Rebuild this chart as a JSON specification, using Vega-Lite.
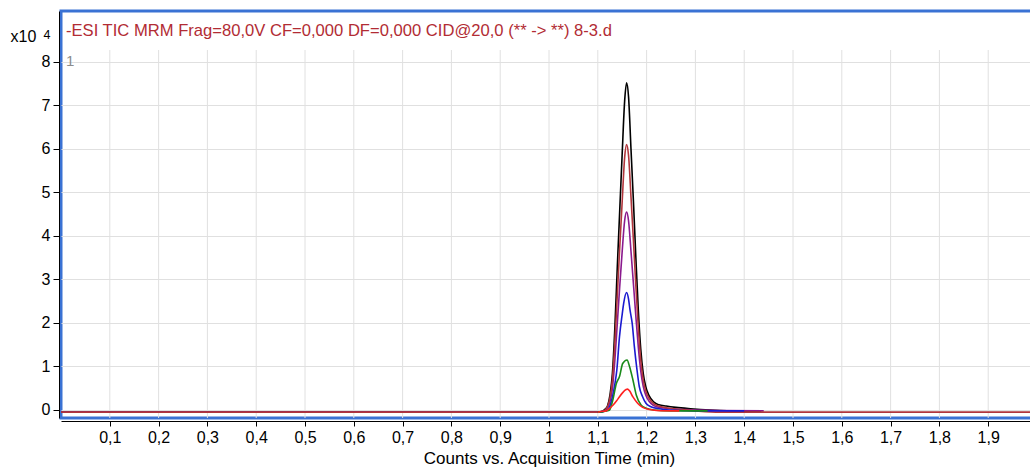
{
  "$schema": "https://vega.github.io/schema/vega-lite/v6.json",
  "autosize": "none",
  "padding": {"left": 61, "top": 11, "right": 0, "bottom": 53},
  "width": 976,
  "height": 407,
  "config": {
    "font": "Liberation Sans",
    "view": {"stroke": "#3a72d4", "strokeWidth": 3},
    "background": "white"
  },
  "title": {
    "text": "-ESI TIC MRM Frag=80,0V CF=0,000 DF=0,000 CID@20,0 (** -> **) 8-3.d",
    "subtitle": "1",
    "anchor": "start",
    "frame": "group",
    "offset": -58,
    "dx": 5,
    "fontSize": 16.6,
    "fontWeight": "normal",
    "color": "#b22c34",
    "subtitleColor": "#8c8c8c",
    "subtitleFontSize": 15,
    "subtitlePadding": 14
  },
  "resolve": {"scale": {"y": "independent"}, "axis": {"y": "independent"}},
  "datasets": {
    "grid": [
      {"g": 0.1}, {"g": 0.2}, {"g": 0.3}, {"g": 0.4}, {"g": 0.5}, {"g": 0.6}, {"g": 0.7}, {"g": 0.8}, {"g": 0.9}, {"g": 1.0},
      {"g": 1.1}, {"g": 1.2}, {"g": 1.3}, {"g": 1.4}, {"g": 1.5}, {"g": 1.6}, {"g": 1.7}, {"g": 1.8}, {"g": 1.9}
    ],
    "tic": [
      {"s": "s1", "t": 0.0, "v": -500},
      {"s": "s1", "t": 1.1, "v": -500},
      {"s": "s1", "t": 1.11, "v": -300},
      {"s": "s1", "t": 1.115, "v": 200},
      {"s": "s1", "t": 1.12, "v": 1000},
      {"s": "s1", "t": 1.125, "v": 3500},
      {"s": "s1", "t": 1.13, "v": 8500},
      {"s": "s1", "t": 1.135, "v": 19000},
      {"s": "s1", "t": 1.14, "v": 33000},
      {"s": "s1", "t": 1.145, "v": 46000},
      {"s": "s1", "t": 1.15, "v": 59000},
      {"s": "s1", "t": 1.155, "v": 71000},
      {"s": "s1", "t": 1.159, "v": 75200},
      {"s": "s1", "t": 1.163, "v": 72000},
      {"s": "s1", "t": 1.168, "v": 60000},
      {"s": "s1", "t": 1.173, "v": 48000},
      {"s": "s1", "t": 1.178, "v": 35000},
      {"s": "s1", "t": 1.183, "v": 23000},
      {"s": "s1", "t": 1.188, "v": 14000},
      {"s": "s1", "t": 1.193, "v": 8500},
      {"s": "s1", "t": 1.198, "v": 5500},
      {"s": "s1", "t": 1.205, "v": 3300},
      {"s": "s1", "t": 1.215, "v": 1800},
      {"s": "s1", "t": 1.225, "v": 1200},
      {"s": "s1", "t": 1.24, "v": 900},
      {"s": "s1", "t": 1.26, "v": 600},
      {"s": "s1", "t": 1.29, "v": 300},
      {"s": "s1", "t": 1.33, "v": 0},
      {"s": "s1", "t": 1.38, "v": -200},
      {"s": "s1", "t": 1.435, "v": -300},

      {"s": "s2", "t": 0.0, "v": -500},
      {"s": "s2", "t": 1.1, "v": -500},
      {"s": "s2", "t": 1.115, "v": -200},
      {"s": "s2", "t": 1.12, "v": 600},
      {"s": "s2", "t": 1.125, "v": 2000},
      {"s": "s2", "t": 1.13, "v": 5000},
      {"s": "s2", "t": 1.135, "v": 11500},
      {"s": "s2", "t": 1.14, "v": 20000},
      {"s": "s2", "t": 1.145, "v": 28500},
      {"s": "s2", "t": 1.15, "v": 36500},
      {"s": "s2", "t": 1.155, "v": 43500},
      {"s": "s2", "t": 1.159, "v": 45500},
      {"s": "s2", "t": 1.163, "v": 43500},
      {"s": "s2", "t": 1.168, "v": 36500},
      {"s": "s2", "t": 1.173, "v": 29000},
      {"s": "s2", "t": 1.178, "v": 21500},
      {"s": "s2", "t": 1.183, "v": 14500},
      {"s": "s2", "t": 1.188, "v": 9000},
      {"s": "s2", "t": 1.193, "v": 5500},
      {"s": "s2", "t": 1.198, "v": 3500},
      {"s": "s2", "t": 1.205, "v": 2000},
      {"s": "s2", "t": 1.215, "v": 1000},
      {"s": "s2", "t": 1.225, "v": 600},
      {"s": "s2", "t": 1.24, "v": 400},
      {"s": "s2", "t": 1.28, "v": 100},
      {"s": "s2", "t": 1.35, "v": -100},
      {"s": "s2", "t": 1.44, "v": -200},

      {"s": "s3", "t": 0.0, "v": -500},
      {"s": "s3", "t": 1.1, "v": -500},
      {"s": "s3", "t": 1.11, "v": -400},
      {"s": "s3", "t": 1.115, "v": 0},
      {"s": "s3", "t": 1.12, "v": 800},
      {"s": "s3", "t": 1.125, "v": 2800},
      {"s": "s3", "t": 1.13, "v": 7000},
      {"s": "s3", "t": 1.135, "v": 15500},
      {"s": "s3", "t": 1.14, "v": 26500},
      {"s": "s3", "t": 1.145, "v": 37500},
      {"s": "s3", "t": 1.15, "v": 48000},
      {"s": "s3", "t": 1.155, "v": 58000},
      {"s": "s3", "t": 1.159, "v": 61000},
      {"s": "s3", "t": 1.163, "v": 58500},
      {"s": "s3", "t": 1.168, "v": 49000},
      {"s": "s3", "t": 1.173, "v": 39000},
      {"s": "s3", "t": 1.178, "v": 28500},
      {"s": "s3", "t": 1.183, "v": 19000},
      {"s": "s3", "t": 1.188, "v": 11500},
      {"s": "s3", "t": 1.193, "v": 7000},
      {"s": "s3", "t": 1.198, "v": 4500},
      {"s": "s3", "t": 1.205, "v": 2700},
      {"s": "s3", "t": 1.215, "v": 1400},
      {"s": "s3", "t": 1.225, "v": 900},
      {"s": "s3", "t": 1.24, "v": 500},
      {"s": "s3", "t": 1.26, "v": 200},
      {"s": "s3", "t": 1.3, "v": -200},
      {"s": "s3", "t": 1.35, "v": -500},
      {"s": "s3", "t": 2.0, "v": -500},

      {"s": "s4", "t": 1.1, "v": -500},
      {"s": "s4", "t": 1.115, "v": -200},
      {"s": "s4", "t": 1.12, "v": 0},
      {"s": "s4", "t": 1.125, "v": 1000},
      {"s": "s4", "t": 1.13, "v": 3000},
      {"s": "s4", "t": 1.135, "v": 6000},
      {"s": "s4", "t": 1.139, "v": 9200},
      {"s": "s4", "t": 1.1445, "v": 16900},
      {"s": "s4", "t": 1.15, "v": 22000},
      {"s": "s4", "t": 1.153, "v": 24500},
      {"s": "s4", "t": 1.159, "v": 27000},
      {"s": "s4", "t": 1.163, "v": 25500},
      {"s": "s4", "t": 1.166, "v": 23000},
      {"s": "s4", "t": 1.1705, "v": 19900},
      {"s": "s4", "t": 1.175, "v": 14500},
      {"s": "s4", "t": 1.18, "v": 9500},
      {"s": "s4", "t": 1.185, "v": 5400},
      {"s": "s4", "t": 1.192, "v": 3000},
      {"s": "s4", "t": 1.199, "v": 1500},
      {"s": "s4", "t": 1.21, "v": 700},
      {"s": "s4", "t": 1.225, "v": 300},
      {"s": "s4", "t": 1.25, "v": 0},
      {"s": "s4", "t": 1.3, "v": -200},
      {"s": "s4", "t": 1.4, "v": -200},

      {"s": "s5", "t": 1.1, "v": -500},
      {"s": "s5", "t": 1.118, "v": -200},
      {"s": "s5", "t": 1.124, "v": 0},
      {"s": "s5", "t": 1.131, "v": 2400},
      {"s": "s5", "t": 1.138, "v": 6100},
      {"s": "s5", "t": 1.1445, "v": 7700},
      {"s": "s5", "t": 1.151, "v": 10700},
      {"s": "s5", "t": 1.16, "v": 11500},
      {"s": "s5", "t": 1.165, "v": 10000},
      {"s": "s5", "t": 1.172, "v": 6900},
      {"s": "s5", "t": 1.179, "v": 3400},
      {"s": "s5", "t": 1.189, "v": 1100},
      {"s": "s5", "t": 1.199, "v": 400},
      {"s": "s5", "t": 1.215, "v": 0},
      {"s": "s5", "t": 1.25, "v": -200},
      {"s": "s5", "t": 1.325, "v": -200},

      {"s": "s6", "t": 1.1, "v": -500},
      {"s": "s6", "t": 1.11, "v": -300},
      {"s": "s6", "t": 1.117, "v": -200},
      {"s": "s6", "t": 1.124, "v": 400},
      {"s": "s6", "t": 1.131, "v": 1100},
      {"s": "s6", "t": 1.141, "v": 2500},
      {"s": "s6", "t": 1.151, "v": 4000},
      {"s": "s6", "t": 1.158, "v": 4700},
      {"s": "s6", "t": 1.161, "v": 4800},
      {"s": "s6", "t": 1.165, "v": 4400},
      {"s": "s6", "t": 1.172, "v": 3000},
      {"s": "s6", "t": 1.182, "v": 1500},
      {"s": "s6", "t": 1.192, "v": 600},
      {"s": "s6", "t": 1.206, "v": 100},
      {"s": "s6", "t": 1.22, "v": -100},
      {"s": "s6", "t": 1.267, "v": -200}
    ]
  },
  "layer": [
    {
      "data": {"name": "grid"},
      "mark": {"type": "rule", "color": "#e0e0e0", "strokeWidth": 1},
      "encoding": {
        "x": {"field": "g", "type": "quantitative", "scale": {"domain": [0, 2], "nice": false, "zero": false}},
        "y": {
          "datum": -1840, "type": "quantitative",
          "scale": {"domain": [-1840, 91720], "nice": false, "zero": false},
          "axis": {
            "orient": "left",
            "offset": 2,
            "domain": false,
            "ticks": false,
            "labels": false,
            "grid": false,
            "title": "4",
            "titleAngle": 0,
            "titleAlign": "left",
            "titleBaseline": "middle",
            "titleX": -16,
            "titleY": 23.5,
            "titleFontSize": 12.5,
            "titleFontWeight": "normal",
            "titleColor": "black"
          }
        },
        "y2": {"datum": 82760}
      }
    },
    {
      "data": {"name": "tic"},
      "mark": {"type": "line", "strokeWidth": 1.6, "interpolate": "monotone"},
      "encoding": {
        "x": {
          "field": "t", "type": "quantitative",
          "scale": {"domain": [0, 2], "nice": false, "zero": false},
          "axis": {
            "values": [0.1, 0.2, 0.3, 0.4, 0.5, 0.6, 0.7, 0.8, 0.9, 1, 1.1, 1.2, 1.3, 1.4, 1.5, 1.6, 1.7, 1.8, 1.9],
            "labelExpr": "replace(format(datum.value, '.1~f'), '.', ',')",
            "grid": false,
            "offset": 3,
            "domainColor": "black",
            "domainWidth": 1,
            "tickColor": "black",
            "tickSize": 5,
            "labelFontSize": 16,
            "labelColor": "black",
            "labelPadding": 3,
            "labelFlush": false,
            "labelOverlap": false,
            "title": "Counts vs. Acquisition Time (min)",
            "titleFontSize": 17,
            "titleFontWeight": "normal",
            "titleColor": "black",
            "titlePadding": 5
          }
        },
        "y": {
          "field": "v", "type": "quantitative",
          "scale": {"domain": [-1840, 91720], "nice": false, "zero": false},
          "axis": {
            "orient": "left",
            "values": [0, 10000, 20000, 30000, 40000, 50000, 60000, 70000, 80000],
            "labelExpr": "format(datum.value / 10000, 'd')",
            "grid": true,
            "gridColor": "#e0e0e0",
            "gridWidth": 1,
            "offset": 2,
            "domainColor": "black",
            "domainWidth": 1,
            "tickColor": "black",
            "tickSize": 6,
            "labelFontSize": 16,
            "labelColor": "black",
            "labelPadding": 3,
            "labelFlush": false,
            "title": "x10",
            "titleAngle": 0,
            "titleAlign": "left",
            "titleBaseline": "middle",
            "titleX": -49,
            "titleY": 25,
            "titleFontSize": 16,
            "titleFontWeight": "normal",
            "titleColor": "black"
          }
        },
        "color": {
          "field": "s", "type": "nominal",
          "scale": {"domain": ["s1", "s2", "s3", "s4", "s5", "s6"], "range": ["#000000", "#8a1a8e", "#b0363c", "#1a1ad0", "#1a8a1a", "#ff2020"]},
          "legend": null
        }
      }
    }
  ]
}
